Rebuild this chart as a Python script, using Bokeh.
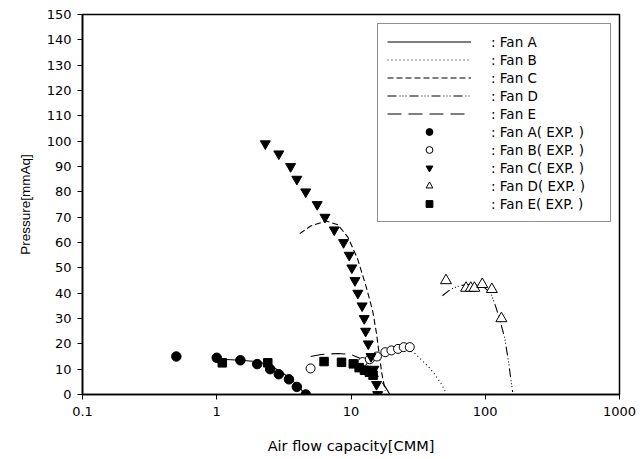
from bokeh.plotting import figure
from bokeh.models import Legend, LegendItem, FixedTicker
from bokeh.embed import file_html
from bokeh.resources import INLINE

# ---- data ----
x_ticks = [0.1, 1, 10, 100, 1000]
x_tick_labels = ["0.1", "1", "10", "100", "1000"]
y_ticks = list(range(0, 151, 10))

fanA_x = [1.0, 1.5, 2.0, 2.5, 3.0, 3.5, 4.0, 4.4, 4.7]
fanA_y = [14.0, 13.5, 13.0, 11.5, 9.0, 6.5, 3.5, 1.0, 0.0]

fanB_x = [12.0, 15.0, 18.0, 22.0, 26.0, 29.5, 33.0, 38.0, 42.0, 46.0, 49.0, 51.0]
fanB_y = [12.5, 14.5, 16.0, 17.3, 17.8, 16.5, 14.0, 10.8, 8.0, 5.0, 2.5, 0.5]

fanC_x = [4.15, 5.0, 6.5, 8.0, 9.5, 11.2, 12.9, 14.5, 15.5, 16.3, 17.0, 18.0]
fanC_y = [63.5, 66.5, 68.5, 67.0, 62.0, 53.5, 43.0, 33.0, 24.0, 15.0, 8.0, 1.5]

fanD_x = [48, 55, 65, 80, 95, 110, 120, 130, 140, 150, 156, 160]
fanD_y = [39.0, 41.5, 43.0, 43.5, 43.0, 40.0, 34.5, 28.5, 22.0, 12.0, 5.0, 1.0]

fanE_x = [5.0, 6.0, 8.0, 10.0, 12.0, 14.0, 16.0, 18.0, 19.5]
fanE_y = [15.0, 15.8, 16.2, 15.8, 14.0, 11.0, 7.0, 3.0, 0.0]

expA_x = [0.5, 1.0, 1.5, 2.0, 2.5, 2.9, 3.45, 3.95, 4.6]
expA_y = [15.0, 14.5, 13.5, 12.0, 10.0, 8.0, 6.0, 3.0, 0.0]

expB_x = [5.0, 12.2, 13.8, 15.6, 18.0, 20.0, 22.4, 24.7, 27.4]
expB_y = [10.3, 12.8, 13.9, 15.0, 16.7, 17.4, 18.0, 18.7, 18.7]

expC_x = [2.3, 2.9, 3.55, 3.95, 4.6, 5.6, 6.4, 7.5, 8.8, 9.7, 10.15, 10.7,
          11.25, 12.1, 12.55, 12.85, 13.45, 14.1, 14.8, 15.5, 15.8]
expC_y = [99, 95, 90, 85, 80, 75, 70, 65, 60, 55, 50, 45,
          40, 35, 30, 25, 20, 15, 10, 4, 0]

expD_x = [51, 72, 78, 83, 95, 112, 132]
expD_y = [45.0, 42.0, 42.0, 42.0, 43.5, 41.5, 30.0]

expE_x = [1.1, 2.4, 6.3, 8.5, 10.4, 11.5, 12.6, 13.7, 14.6]
expE_y = [12.5, 12.5, 13.0, 12.7, 12.1, 10.6, 9.6, 8.8, 7.6]

FONT_WIDE = "DejaVu Sans"
FONT = "Liberation Sans"

p = figure(width=643, height=459, x_axis_type="log",
           x_range=(0.1, 1000), y_range=(0, 150),
           output_backend="svg", toolbar_location=None,
           min_border_left=82, min_border_right=24,
           min_border_top=14, min_border_bottom=65)

p.background_fill_color = "white"
p.border_fill_color = "white"
p.outline_line_color = "black"
p.outline_line_width = 1.5
p.xgrid.visible = False
p.ygrid.visible = False

p.xaxis.ticker = FixedTicker(ticks=x_ticks, minor_ticks=[])
p.xaxis.major_label_overrides = {t: l for t, l in zip(x_ticks, x_tick_labels)}
p.yaxis.ticker = FixedTicker(ticks=y_ticks, minor_ticks=[])

for ax in (p.xaxis[0], p.yaxis[0]):
    ax.axis_line_color = "black"
    ax.axis_line_width = 1.6
    ax.major_tick_line_color = "black"
    ax.major_tick_in = 0
    ax.major_tick_out = 5
    ax.minor_tick_line_color = None
    ax.major_label_text_font = FONT_WIDE
    ax.major_label_text_font_size = "13px"
    ax.major_label_text_color = "black"
    ax.axis_label_text_font_style = "normal"
    ax.axis_label_text_color = "black"

p.xaxis.axis_label = "Air flow capacity[CMM]"
p.xaxis.axis_label_text_font = FONT_WIDE
p.xaxis.axis_label_text_font_size = "14.5px"
p.yaxis.axis_label = "Pressure[mmAq]"
p.yaxis.axis_label_text_font = FONT
p.yaxis.axis_label_text_font_size = "13.5px"
p.xaxis.major_label_standoff = 7
p.xaxis.axis_label_standoff = 19
p.yaxis.major_label_standoff = 6
p.yaxis.axis_label_standoff = 11

lw = 1.1
rA = p.line(fanA_x, fanA_y, line_color="black", line_width=lw)
rB = p.line(fanB_x, fanB_y, line_color="black", line_width=lw, line_dash="1 3")
rC = p.line(fanC_x, fanC_y, line_color="black", line_width=lw, line_dash="6 3")
rD = p.line(fanD_x, fanD_y, line_color="black", line_width=lw, line_dash="9 3 1 2 1 2 1 3")
rE = p.line(fanE_x, fanE_y, line_color="black", line_width=lw, line_dash="14 7")

sA = p.scatter(expA_x, expA_y, marker="circle", size=9.5, fill_color="black", line_color="black")
sB = p.scatter(expB_x, expB_y, marker="circle", size=9, fill_color="white", line_color="black", line_width=1)
sC = p.scatter(expC_x, expC_y, marker="inverted_triangle", size=10, fill_color="black", line_color="black")
sD = p.scatter(expD_x, expD_y, marker="triangle", size=11, fill_color="white", line_color="black", line_width=1)
sE = p.scatter(expE_x, expE_y, marker="square", size=8.5, fill_color="black", line_color="black")

items = [
    LegendItem(label=": Fan A", renderers=[rA]),
    LegendItem(label=": Fan B", renderers=[rB]),
    LegendItem(label=": Fan C", renderers=[rC]),
    LegendItem(label=": Fan D", renderers=[rD]),
    LegendItem(label=": Fan E", renderers=[rE]),
    LegendItem(label=": Fan A( EXP. )", renderers=[sA]),
    LegendItem(label=": Fan B( EXP. )", renderers=[sB]),
    LegendItem(label=": Fan C( EXP. )", renderers=[sC]),
    LegendItem(label=": Fan D( EXP. )", renderers=[sD]),
    LegendItem(label=": Fan E( EXP. )", renderers=[sE]),
]
legend = Legend(items=items, location=(295, 172))
legend.glyph_width = 84
legend.glyph_height = 17
legend.label_height = 17
legend.label_width = 110
legend.spacing = 1
legend.padding = 9
legend.margin = 0
legend.label_standoff = 20
legend.label_text_font = FONT_WIDE
legend.label_text_font_size = "13.5px"
legend.label_text_color = "black"
legend.label_text_baseline = "middle"
legend.border_line_color = "#222222"
legend.border_line_width = 1.3
legend.background_fill_alpha = 1.0
p.add_layout(legend)

open("out.html", "w").write(file_html(p, INLINE))
